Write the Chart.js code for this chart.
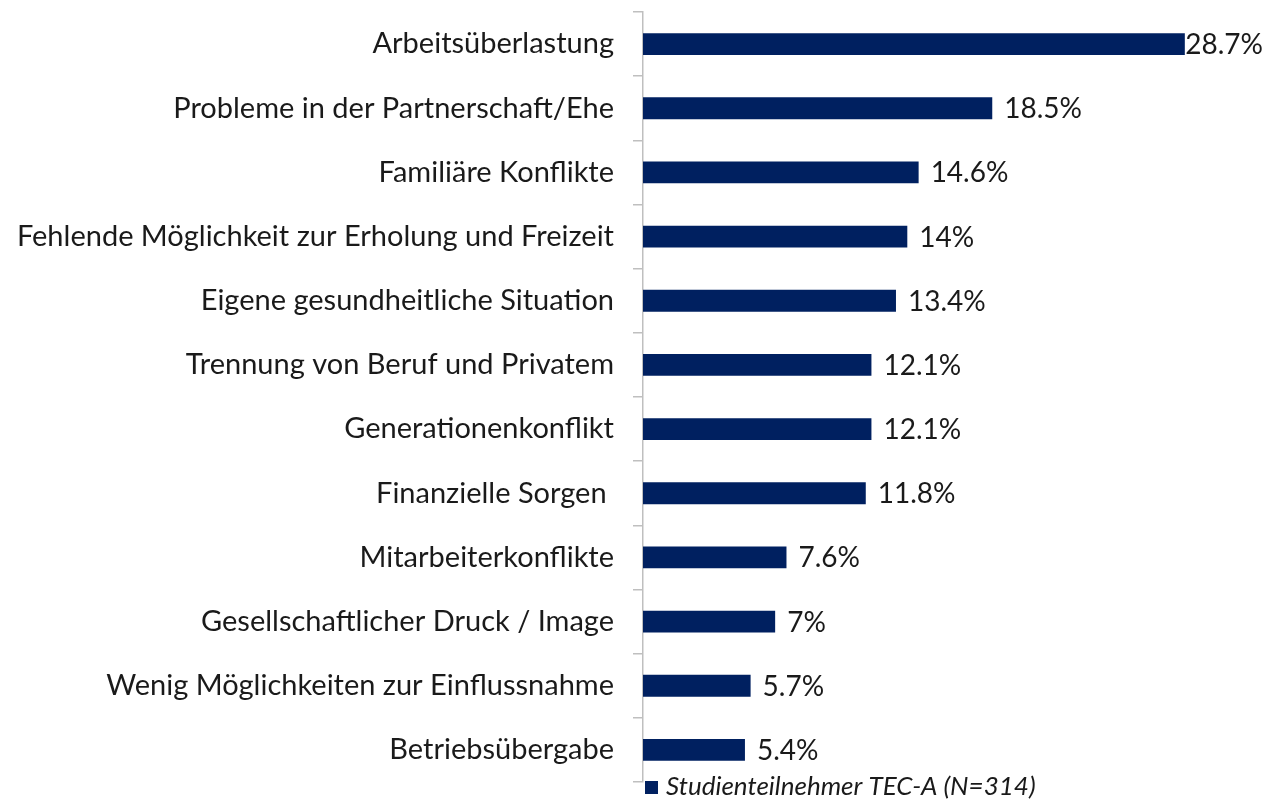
<!DOCTYPE html>
<html>
<head>
<meta charset="utf-8">
<script src="https://cdn.jsdelivr.net/npm/chart.js@4/dist/chart.umd.min.js"></script>
<style>
html,body{margin:0;padding:0;background:#fff;}
#wrap{width:1266px;height:801px;position:relative;}
</style>
</head>
<body>
<div id="wrap"><canvas id="c" width="1266" height="801"></canvas></div>
<script>
const categories = [
  "Arbeitsüberlastung",
  "Probleme in der Partnerschaft/Ehe",
  "Familiäre Konflikte",
  "Fehlende Möglichkeit zur Erholung und Freizeit",
  "Eigene gesundheitliche Situation",
  "Trennung von Beruf und Privatem",
  "Generationenkonflikt",
  "Finanzielle Sorgen ",
  "Mitarbeiterkonflikte",
  "Gesellschaftlicher Druck / Image",
  "Wenig Möglichkeiten zur Einflussnahme",
  "Betriebsübergabe"
];
const values = [28.7, 18.5, 14.6, 14, 13.4, 12.1, 12.1, 11.8, 7.6, 7, 5.7, 5.4];
const valueLabels = ["28.7%", "18.5%", "14.6%", "14%", "13.4%", "12.1%", "12.1%", "11.8%", "7.6%", "7%", "5.7%", "5.4%"];
const seriesName = "Studienteilnehmer TEC-A (N=314)";

const FONT = "Lato, 'Open Sans', sans-serif";
const BAR = "#002060";

const labelPlugin = {
  id: 'valLabels',
  afterDatasetsDraw(chart) {
    const ctx = chart.ctx;
    const meta = chart.getDatasetMeta(0);
    ctx.save();
    ctx.font = "28px " + FONT;
    ctx.fillStyle = "#1a1a1a";
    ctx.textBaseline = "middle";
    ctx.textAlign = "left";
    meta.data.forEach((bar, i) => {
      const t = valueLabels[i];
      const w = ctx.measureText(t).width;
      let x = bar.x + 12;
      if (x + w > chart.width - 3) x = Math.max(bar.x, chart.width - 3 - w);
      ctx.fillText(t, x, bar.y + 1);
    });
    ctx.restore();
  }
};

const legendPlugin = {
  id: 'customLegend',
  afterDraw(chart) {
    const ctx = chart.ctx;
    const x0 = chart.chartArea.left + 2;
    const y = 787;
    ctx.save();
    ctx.fillStyle = BAR;
    ctx.fillRect(x0, y - 6, 13, 13);
    ctx.font = "italic 26px " + FONT;
    ctx.fillStyle = "#1a1a1a";
    ctx.textBaseline = "middle";
    ctx.fillText(seriesName, x0 + 21, y);
    ctx.restore();
  }
};

new Chart(document.getElementById('c'), {
  type: 'bar',
  data: {
    labels: categories,
    datasets: [{
      label: seriesName,
      data: values,
      backgroundColor: BAR,
      borderWidth: 0,
      categoryPercentage: 1,
      barPercentage: 0.34
    }]
  },
  options: {
    indexAxis: 'y',
    responsive: false,
    animation: false,
    layout: { padding: { top: 12, bottom: 19, left: 0, right: 0 } },
    plugins: { legend: { display: false }, tooltip: { enabled: false } },
    scales: {
      x: {
        display: false,
        min: 0,
        max: 33
      },
      y: {
        afterFit(scale) { scale.width = 643; scale.paddingTop = 0; scale.paddingBottom = 0; },
        grid: {
          drawOnChartArea: false,
          drawTicks: true,
          tickLength: 10,
          color: '#bfbfbf',
          lineWidth: 1.5,
          offset: true
        },
        border: { display: true, color: '#bfbfbf', width: 1.5 },
        ticks: {
          font: { family: FONT, size: 29 },
          color: '#1a1a1a',
          padding: 19,
          autoSkip: false
        }
      }
    }
  },
  plugins: [labelPlugin, legendPlugin]
});
</script>
</body>
</html>
